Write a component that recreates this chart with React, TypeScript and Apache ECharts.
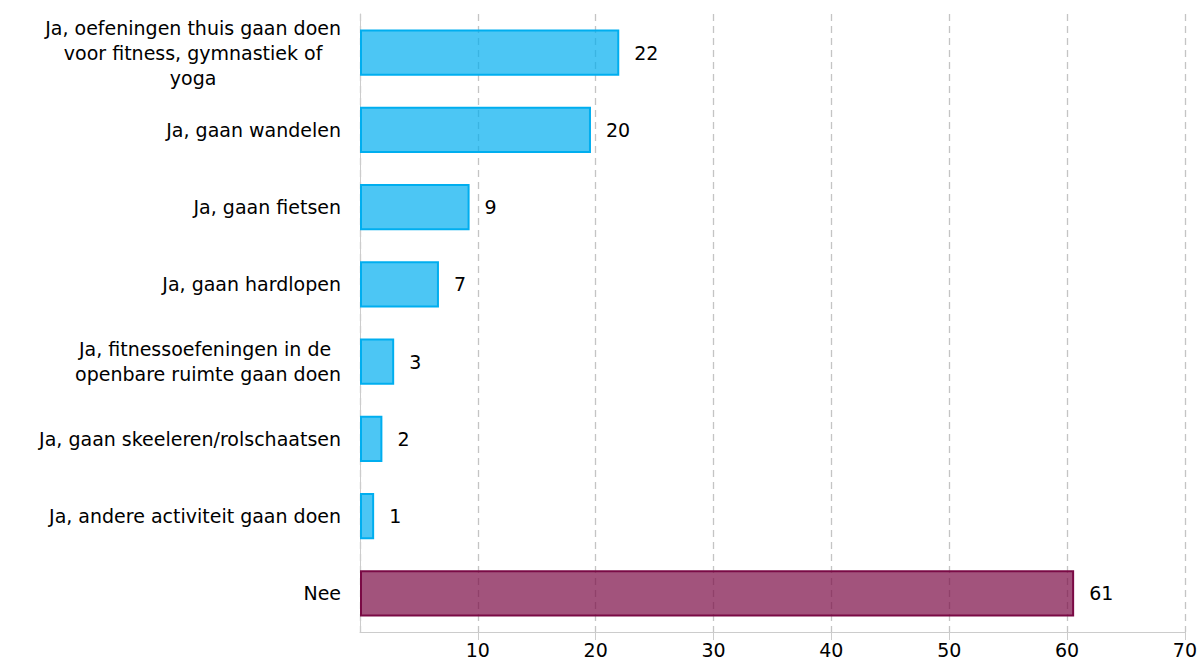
import React, { useEffect, useRef } from "react";
import * as echarts from "echarts";

const categories = [
  "Ja, oefeningen thuis gaan doen\nvoor fitness, gymnastiek of\nyoga",
  "Ja, gaan wandelen",
  "Ja, gaan fietsen",
  "Ja, gaan hardlopen",
  "Ja, fitnessoefeningen in de \nopenbare ruimte gaan doen",
  "Ja, gaan skeeleren/rolschaatsen",
  "Ja, andere activiteit gaan doen",
  "Nee",
];
const values = [22.0, 19.6, 9.3, 6.7, 2.9, 1.9, 1.2, 60.6];
const xTicks = { min: 0, max: 70, interval: 10 };

const FONT = "DejaVu Sans";
const FS = 19;

export default function App() {
  const ref = useRef<HTMLDivElement>(null);
  useEffect(() => {
    if (!ref.current) return;
    const chart = echarts.init(ref.current, undefined, { renderer: "svg" });
    const data = values.map((v, i) => {
      const isNee = categories[i] === "Nee";
      return {
        value: v,
        itemStyle: isNee
          ? { color: "rgba(122,10,69,0.7)", borderColor: "#7A0A45", borderWidth: 2 }
          : { color: "rgba(0,174,239,0.7)", borderColor: "#00AEEF", borderWidth: 2 },
      };
    });
    chart.setOption({
      animation: false,
      grid: { left: 360, right: 14, top: 14, bottom: 34, containLabel: false },
      xAxis: {
        type: "value",
        min: xTicks.min,
        max: xTicks.max,
        interval: xTicks.interval,
        axisLine: { show: true, lineStyle: { color: "#ccc", width: 1 } },
        axisTick: { show: true, length: 8, lineStyle: { color: "#ccc" } },
        axisLabel: {
          showMinLabel: false,
          margin: 8,
          color: "#000",
          fontFamily: FONT,
          fontSize: FS,
        },
        splitLine: {
          show: true,
          lineStyle: { color: "#c4c4c4", type: [7, 5], width: 1.3 },
        },
      },
      yAxis: {
        type: "category",
        inverse: true,
        data: categories,
        axisLine: { show: true, lineStyle: { color: "#ccc", width: 1 } },
        axisTick: { show: false },
        axisLabel: {
          margin: 19,
          color: "#000",
          fontFamily: FONT,
          fontSize: FS,
          formatter: (v: string) => `{c|${v}}`,
          rich: {
            c: { align: "center", fontFamily: FONT, fontSize: FS, lineHeight: 25, color: "#000" },
          },
        },
      },
      series: [
        {
          type: "bar",
          data,
          barCategoryGap: "40%",
          label: {
            show: true,
            position: "right",
            distance: 15,
            color: "#000",
            fontFamily: FONT,
            fontSize: FS,
            formatter: (p: any) => String(Math.round(p.value)),
          },
        },
      ],
    });
    return () => chart.dispose();
  }, []);
  return (
    <div
      ref={ref}
      style={{ position: "fixed", left: 0, top: 0, width: 1200, height: 666, background: "#fff" }}
    />
  );
}
